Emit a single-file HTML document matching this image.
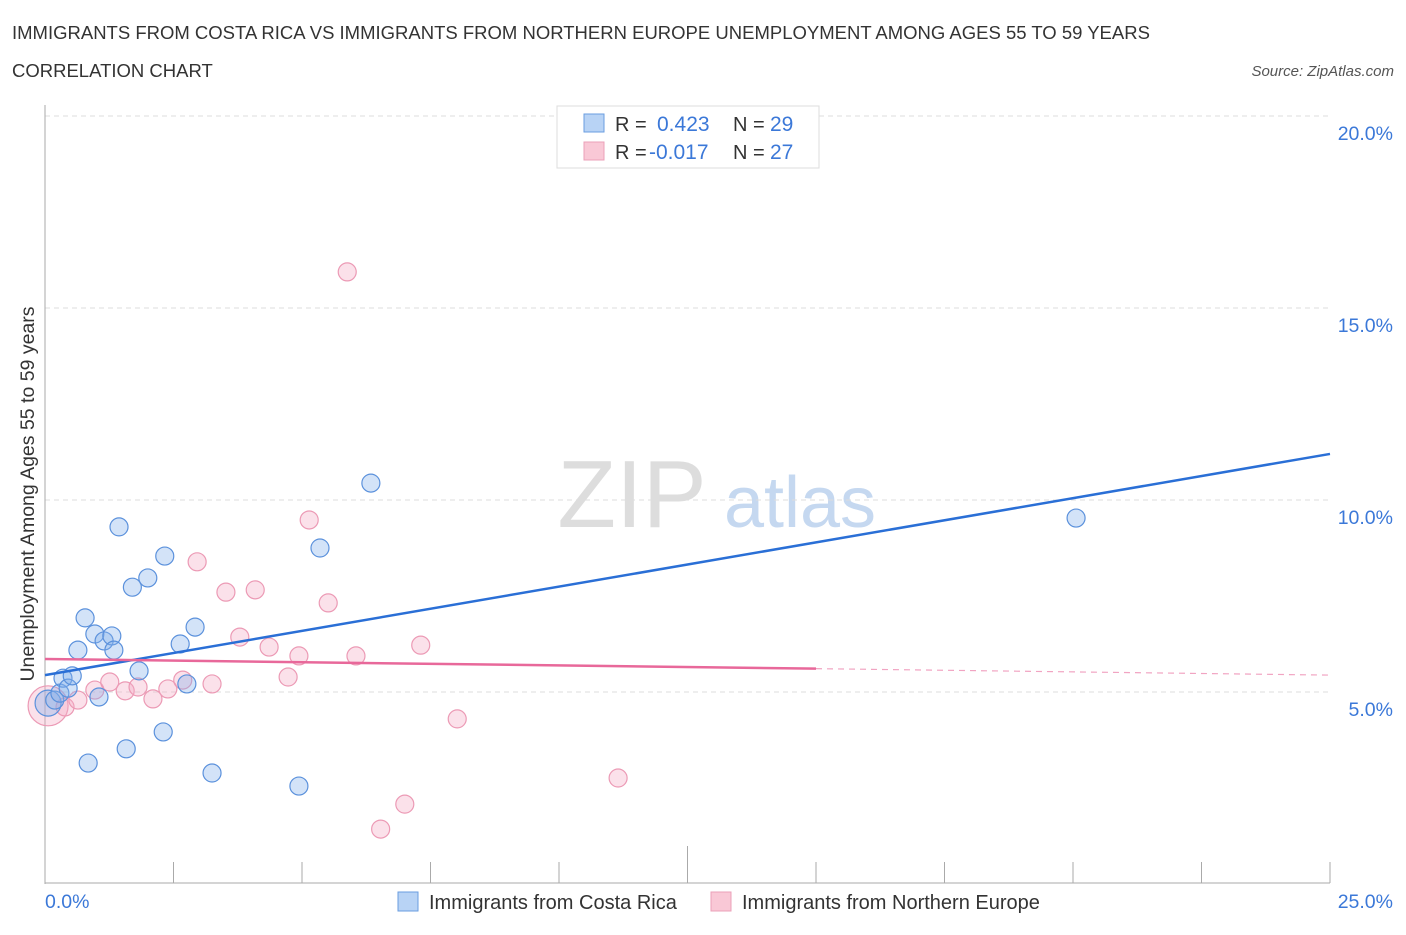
<!DOCTYPE html>
<html><head><meta charset="utf-8"><style>
body{margin:0;background:#fff;font-family:"Liberation Sans",sans-serif;}
svg text{font-family:"Liberation Sans",sans-serif;}
</style></head><body>
<svg id="chart" width="1406" height="930">
<text x="12" y="39" font-size="18.5" fill="#333">IMMIGRANTS FROM COSTA RICA VS IMMIGRANTS FROM NORTHERN EUROPE UNEMPLOYMENT AMONG AGES 55 TO 59 YEARS</text>
<text x="12" y="77" font-size="18.5" fill="#333">CORRELATION CHART</text>
<text x="1394" y="76" font-size="15" fill="#555" font-style="italic" text-anchor="end">Source: ZipAtlas.com</text>
<text x="632" y="527" font-size="96" fill="#ddd" font-family="Liberation Serif" text-anchor="middle">ZIP</text>
<text x="800" y="527" font-size="72" fill="#c5d8f0" text-anchor="middle">atlas</text>
<g id="grid"></g>
<g id="axes"></g>
<g id="marks"></g>
<text transform="translate(34,494) rotate(-90)" font-size="19.5" fill="#333" text-anchor="middle">Unemployment Among Ages 55 to 59 years</text>
<text x="45" y="908" font-size="19.5" fill="#3b78d8">0.0%</text>
<text x="1393" y="908" font-size="19.5" fill="#3b78d8" text-anchor="end">25.0%</text>
<g>
<rect x="557" y="106" width="262" height="62" fill="#fff" stroke="#ddd"/>
<rect x="584" y="114" width="20" height="18" fill="#b8d3f5" stroke="#6a9ee0"/>
<rect x="584" y="142" width="20" height="18" fill="#f9c8d6" stroke="#eba0b8"/>
<text x="615" y="131" font-size="20" fill="#333">R = </text><text x="657" y="131" font-size="21" fill="#3b78d8">0.423</text>
<text x="733" y="131" font-size="20" fill="#333">N = </text><text x="770" y="131" font-size="21" fill="#3b78d8">29</text>
<text x="615" y="159" font-size="20" fill="#333">R = </text><text x="649" y="159" font-size="21" fill="#3b78d8">-0.017</text>
<text x="733" y="159" font-size="20" fill="#333">N = </text><text x="770" y="159" font-size="21" fill="#3b78d8">27</text>
</g>
<g>
<rect x="398" y="892" width="20" height="19" fill="#b8d3f5" stroke="#6a9ee0"/>
<text x="429" y="909" font-size="20" fill="#333">Immigrants from Costa Rica</text>
<rect x="711" y="892" width="20" height="19" fill="#f9c8d6" stroke="#eba0b8"/>
<text x="742" y="909" font-size="20" fill="#333">Immigrants from Northern Europe</text>
</g>
</svg>
<script>
const yTicks=[5,10,15,20];
const yTickLabels=["5.0%","10.0%","15.0%","20.0%"];
const blueX=[0.06,0.19,0.29,0.35,0.45,0.53,0.64,0.78,0.84,0.97,1.05,1.15,1.30,1.34,1.44,1.58,1.70,1.83,2.00,2.30,2.33,2.63,2.76,2.92,3.25,4.94,5.35,6.34,20.06];
const blueY=[4.71,4.79,4.97,5.36,5.10,5.42,6.09,6.93,3.15,6.51,4.87,6.33,6.46,6.09,9.30,3.52,7.73,5.55,7.97,3.96,8.54,6.25,5.21,6.69,2.89,2.55,8.75,10.44,9.53];
const pinkX=[0.06,0.39,0.64,0.97,1.26,1.56,1.81,2.10,2.39,2.68,2.96,3.25,3.52,3.79,4.09,4.36,4.73,4.94,5.14,5.51,5.88,6.05,6.53,7.00,7.31,8.02,11.15];
const pinkY=[4.64,4.61,4.79,5.05,5.26,5.03,5.13,4.82,5.08,5.31,8.39,5.21,7.60,6.43,7.66,6.17,5.39,5.94,9.48,7.32,15.94,5.94,1.43,2.08,6.22,4.30,2.76];
const blueTrend=[5.44,11.20];
const pinkTrend=[5.86,5.44];
const pinkSolidEnd=15;
const NS="http://www.w3.org/2000/svg";
function sx(v){return 45+v*1285/25;}
function sy(v){return 884-v*38.4;}
function mk(tag,attrs,parent){const e=document.createElementNS(NS,tag);for(const k in attrs)e.setAttribute(k,attrs[k]);parent.appendChild(e);return e;}
const grid=document.getElementById('grid'),axes=document.getElementById('axes'),marks=document.getElementById('marks');
yTicks.forEach((t,i)=>{
 const l=mk('line',{x1:45,x2:1330,y1:sy(t),y2:sy(t),stroke:'#ddd','stroke-dasharray':'5,4'},grid);
 
 
 const tx=mk('text',{x:1393,y:sy(t)+24,'font-size':19.5,fill:'#3b78d8','text-anchor':'end'},grid);
 tx.textContent=yTickLabels[i];
 
 
});
const ya=mk('line',{x1:45,x2:45,y1:105,y2:884,stroke:'#aaa'},axes);


const xa=mk('line',{x1:45,x2:1330,y1:883,y2:883,stroke:'#aaa'},axes);


for(let i=0;i<=10;i++){
 const x=sx(i*2.5);
 const tk=mk('line',{x1:x,x2:x,y1:(i==5?846:862),y2:883,stroke:'#aaa'},axes);
 
 
}
function dots(X,Y,fill,stroke,name){
 X.forEach((x,i)=>{
  const r=(i==0?(name=='pink-point'?20:13):9);
  const c=mk('circle',{cx:sx(x),cy:sy(Y[i]),r:r,fill:fill,stroke:stroke,'stroke-width':1.2},marks);
  
  
 });
}
dots(pinkX,pinkY,'rgba(244,170,195,0.35)','#ec9ab5','pink-point');
dots(blueX,blueY,'rgba(130,175,235,0.35)','#5b91dc','blue-point');
const bl=mk('line',{x1:sx(0),y1:sy(blueTrend[0]),x2:sx(25),y2:sy(blueTrend[1]),stroke:'#2a6fd6','stroke-width':2.5},marks);


const pm=pinkTrend[0]+(pinkTrend[1]-pinkTrend[0])*pinkSolidEnd/25;
const pl=mk('line',{x1:sx(0),y1:sy(pinkTrend[0]),x2:sx(pinkSolidEnd),y2:sy(pm),stroke:'#e8689a','stroke-width':2.5},marks);


const pd=mk('line',{x1:sx(pinkSolidEnd),y1:sy(pm),x2:sx(25),y2:sy(pinkTrend[1]),stroke:'#e8689a','stroke-width':1.2,'stroke-dasharray':'6,5','opacity':0.6},marks);


</script>
</body></html>
